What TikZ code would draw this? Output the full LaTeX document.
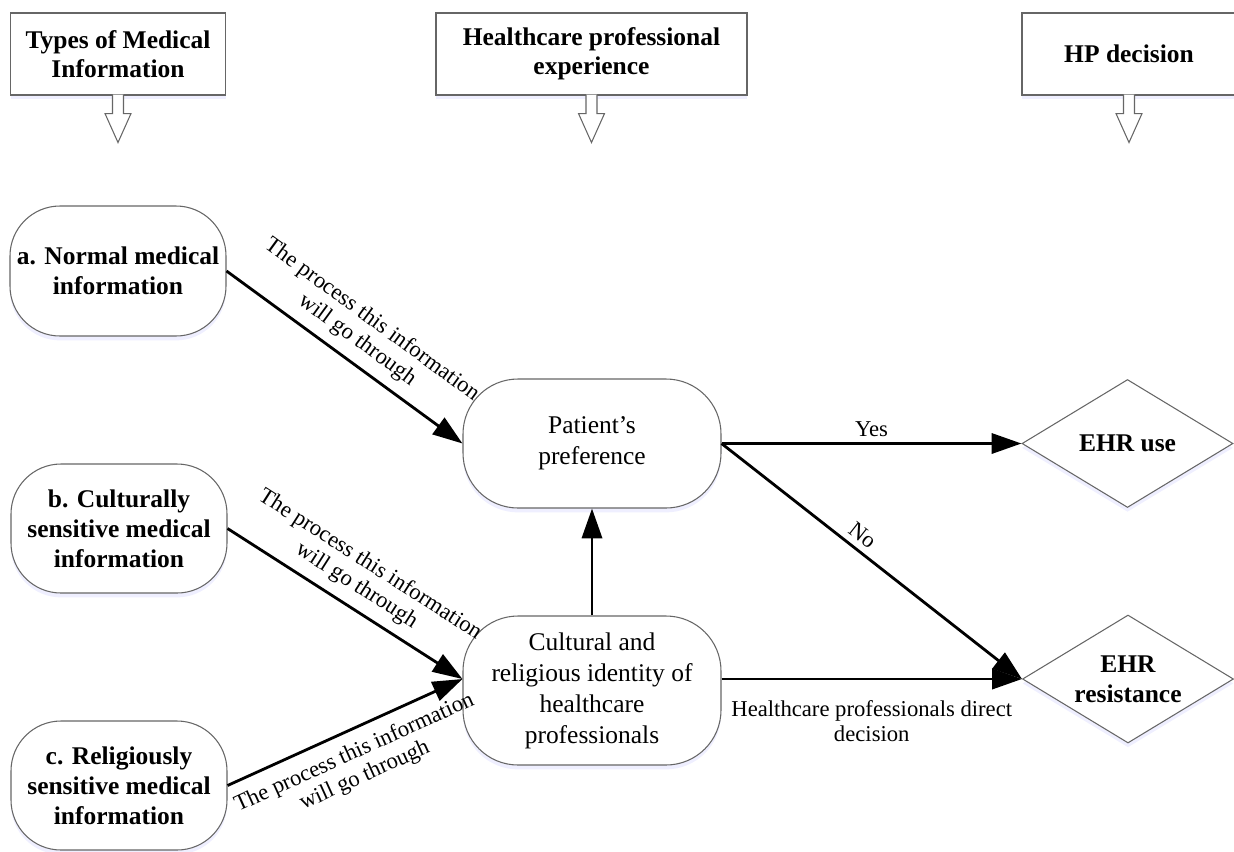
\documentclass[tikz,border=0pt]{standalone}
\usepackage{fontspec}
\setmainfont{Liberation Serif}
\usetikzlibrary{shapes.geometric,arrows.meta,shadows,calc}
\newcommand{\hdsz}{\fontsize{14.5}{16.5}\selectfont\bfseries}
\newcommand{\bfsz}{\fontsize{14.5}{17}\selectfont\bfseries}
\newcommand{\mdsz}{\fontsize{14.5}{17.6}\selectfont}
\newcommand{\lbsz}{\fontsize{12.9}{14.2}\selectfont}
\newcommand{\downtip}[1]{
  \draw [draw=black!60,line width=0.6pt,fill=white]
    ($(#1.south)+(-0.11,0.02)$) -- ($(#1.south)+(-0.11,-0.36)$)
    -- ($(#1.south)+(-0.26,-0.36)$) -- ($(#1.south)+(0,-0.94)$)
    -- ($(#1.south)+(0.26,-0.36)$) -- ($(#1.south)+(0.11,-0.36)$)
    -- ($(#1.south)+(0.11,0.02)$);
}

\begin{document}
\begin{tikzpicture}[>={Triangle[length=17pt,width=11.5pt]},
  shape line/.style={draw=black!60,line width=0.6pt},
  soft shadow/.style={drop shadow={shadow xshift=0pt,shadow yshift=-2.5pt,opacity=0.6,fill=blue!10}},
  headbox/.style={rectangle,shape line,fill=white,soft shadow,minimum height=1.64cm,align=center,font=\hdsz},
  infobox/.style={rectangle,rounded corners=1cm,shape line,fill=white,soft shadow,minimum width=4.32cm,minimum height=2.58cm,align=center,font=\bfsz},
  midbox/.style={rectangle,rounded corners=1.1cm,shape line,fill=white,soft shadow,minimum width=5.16cm,align=center,font=\mdsz},
  decision/.style={diamond,aspect=1.65,shape line,fill=white,soft shadow,minimum width=4.22cm,minimum height=2.56cm,inner sep=0pt,align=center,font=\bfsz},
  conn/.style={->,line width=1.6pt},
  lab/.style={font=\lbsz,align=center}]
  \useasboundingbox (0,0) rectangle (24.68,-17.02);

  \node[headbox,minimum width=4.3cm] (hdtype) at (2.36,-1.08) {Types of Medical\\Information};
  \node[headbox,minimum width=6.22cm] (hdexp) at (11.83,-1.08) {Healthcare professional\\experience};
  \node[headbox,minimum width=4.28cm] (hddec) at (22.58,-1.08) {HP decision};
  \downtip{hdtype}
  \downtip{hdexp}
  \downtip{hddec}

  \node[infobox,minimum height=2.6cm] (normal) at (2.36,-5.42) {a. Normal medical\\information};
  \node[infobox] (cultinfo) at (2.38,-10.57) {b. Culturally\\sensitive medical\\information};
  \node[infobox] (relinfo) at (2.38,-15.71) {c. Religiously\\sensitive medical\\information};
  \node[midbox,minimum height=2.58cm] (pref) at (11.84,-8.87) {Patient's\\preference};
  \node[midbox,minimum height=2.98cm] (identity) at (11.84,-13.81) {Cultural and\\religious identity of\\healthcare\\professionals};
  \node[decision] (use) at (22.55,-8.87) {EHR use};
  \node[decision] (resist) at (22.56,-13.58) {EHR\\resistance};

  \draw[conn] (normal.east) -- (pref.west)
    node[lab,midway,above=2pt,sloped] {The process this information\\will go through};
  \draw[conn] (cultinfo.east) -- ([yshift=0.23cm]identity.west)
    node[lab,midway,above=2pt,sloped] {The process this information\\will go through};
  \draw[conn] (relinfo.east) -- ([yshift=0.23cm]identity.west)
    node[lab,midway,below=3pt,sloped] {The process this information\\will go through};
  \draw[conn] (identity.north) -- (pref.south);
  \draw[conn] (pref.east) -- (use.west) node[lab,midway,above] {Yes};
  \draw[conn] (pref.east) -- (resist.west) node[lab,pos=0.44,above,sloped] {No};
  \draw[conn] ([yshift=0.23cm]identity.east) -- (resist.west)
    node[lab,midway,below=8pt] {Healthcare professionals direct\\decision};
\end{tikzpicture}
\end{document}
